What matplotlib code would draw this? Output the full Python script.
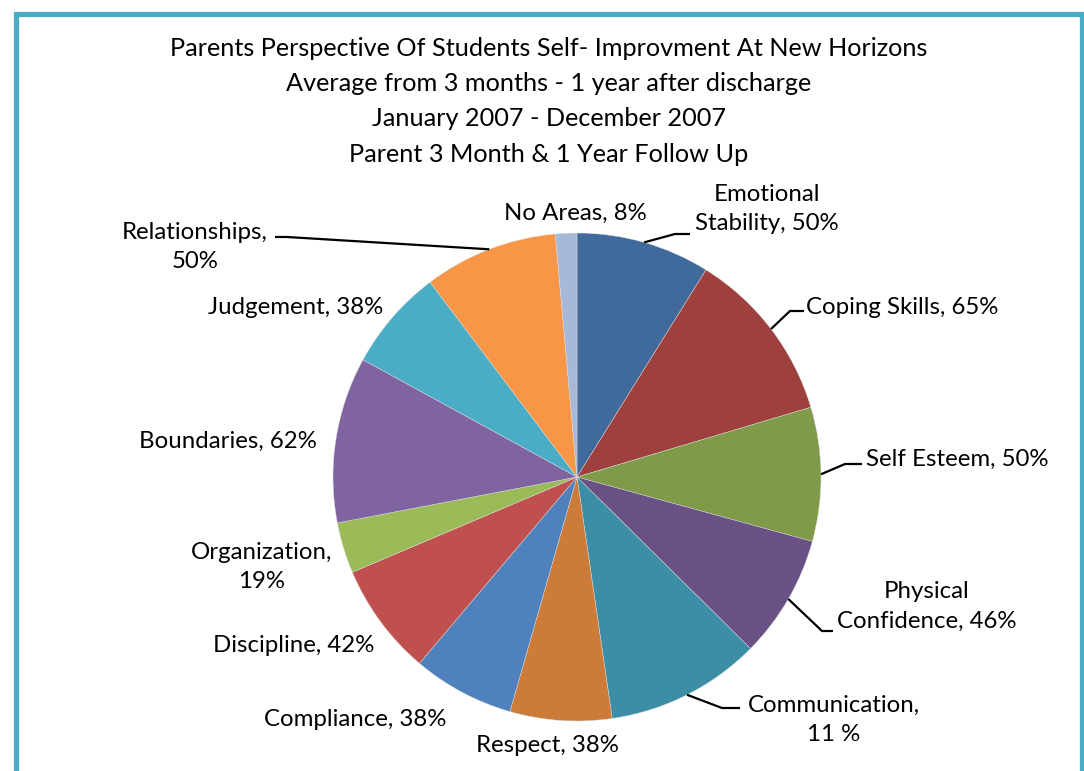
import matplotlib
matplotlib.use("Agg")
import matplotlib.pyplot as plt
import numpy as np
from matplotlib.patches import Rectangle

plt.rcParams['font.family'] = ['Lato', 'DejaVu Sans']

# ---- data ----
categories = ["Emotional Stability", "Coping Skills", "Self Esteem", "Physical Confidence",
              "Communication", "Respect", "Compliance", "Discipline", "Organization",
              "Boundaries", "Judgement", "Relationships", "No Areas"]
values = [50, 65, 50, 46, 58, 38, 38, 42, 19, 62, 38, 50, 8]
label_texts = ["Emotional\nStability, 50%", "Coping Skills, 65%", "Self Esteem, 50%",
               "Physical\nConfidence, 46%", "Communication,\n11 %", "Respect, 38%",
               "Compliance, 38%", "Discipline, 42%", "Organization,\n19%", "Boundaries, 62%",
               "Judgement, 38%", "Relationships,\n50%", "No Areas, 8%"]
colors = ["#40699C", "#9E413E", "#7F9A48", "#695185", "#3B8EA5", "#CC7B38",
          "#4F81BD", "#C0504D", "#9BBB59", "#8064A2", "#4BACC6", "#F79646", "#A8B9D8"]
title_lines = ["Parents Perspective Of Students Self- Improvment At New Horizons",
               "Average from 3 months - 1 year after discharge",
               "January 2007 - December 2007",
               "Parent 3 Month & 1 Year Follow Up"]

# ---- layout (pixel space, y measured from top) ----
W, H = 1084, 771
center_px = (577, 477)
radius_px = 244
label_pos = [(767, 209), (902, 308), (957, 459), (927, 606), (834, 720), (547, 746),
             (355, 719), (294, 645), (262, 567), (228, 441), (296, 307), (195, 247), (575, 213)]
# leader: (elbow, end) in pixels or None
leaders = [((675, 234), (690, 234)), ((790, 311), (804, 311)), ((845, 464), (862, 464)),
           ((822, 631), (833, 631)), ((722, 708), (740, 708)), None, None, None, None,
           None, None, ((287, 237), (275, 237)), None]

fig = plt.figure(figsize=(W / 100, H / 100), dpi=100)
ax = fig.add_axes([0, 0, 1, 1])

def fy(py):
    return H - py

wedges, _ = ax.pie(values, colors=colors, startangle=90, counterclock=False,
                   center=(center_px[0], fy(center_px[1])), radius=radius_px,
                   wedgeprops=dict(linewidth=0.3, edgecolor='#dddddd'), frame=True)
ax.set_xlim(0, W)
ax.set_ylim(0, H)
ax.set_aspect('equal')
ax.axis('off')

fs = 17.3
for i, w in enumerate(wedges):
    tx, ty = label_pos[i]
    ax.text(tx, fy(ty), label_texts[i], ha='center', va='center', fontsize=fs,
            color='black', linespacing=1.52)
    if leaders[i] is not None:
        mid = np.deg2rad((w.theta1 + w.theta2) / 2)
        sx = center_px[0] + radius_px * np.cos(mid)
        sy = fy(center_px[1]) + radius_px * np.sin(mid)
        (ex1, ey1), (ex2, ey2) = leaders[i]
        ax.plot([sx, ex1, ex2], [sy, fy(ey1), fy(ey2)], color='black', lw=1.6,
                solid_capstyle='butt')

for j, line in enumerate(title_lines):
    ax.text(549, fy(48 + j * 35.5), line, ha='center', va='center', fontsize=18.2, color='black')

ax.add_patch(Rectangle((15.5, -20), 1081.5 - 15.5, fy(13.5) + 20, fill=False,
                       edgecolor='#4BACC6', linewidth=3.8, clip_on=False))

fig.savefig("out.png", dpi=100, facecolor='white')
